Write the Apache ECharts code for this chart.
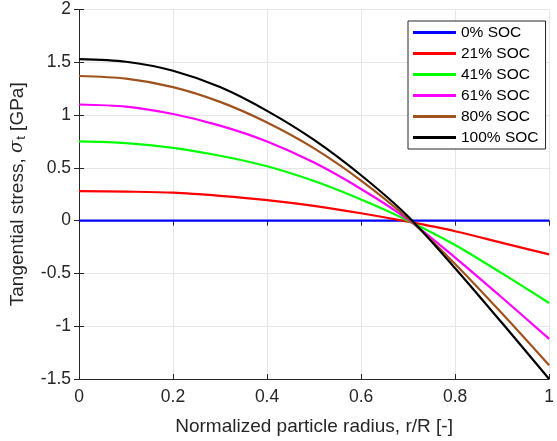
<!DOCTYPE html>
<html><head><meta charset="utf-8">
<script src="https://cdn.jsdelivr.net/npm/echarts@6/dist/echarts.min.js"></script>
<style>html,body{margin:0;padding:0;background:#fff}#c{width:557px;height:441px}</style>
</head><body><div id="c"></div>
<script>
var radius = [0, 0.1, 0.2, 0.3, 0.4, 0.5, 0.6, 0.7, 0.8, 0.9, 1.0];
var seriesNames = ['0% SOC', '21% SOC', '41% SOC', '61% SOC', '80% SOC', '100% SOC'];
var soc0   = [0, 0, 0, 0, 0, 0, 0, 0, 0, 0, 0];
var soc21  = [0.28, 0.275, 0.265, 0.235, 0.195, 0.14, 0.07, -0.01, -0.10, -0.21, -0.32];
var soc41  = [0.75, 0.735, 0.69, 0.615, 0.515, 0.375, 0.20, 0.0, -0.23, -0.50, -0.78];
var soc61  = [1.10, 1.08, 1.01, 0.90, 0.75, 0.55, 0.30, 0.01, -0.35, -0.73, -1.12];
var soc80  = [1.37, 1.345, 1.265, 1.125, 0.93, 0.685, 0.38, 0.02, -0.41, -0.88, -1.37];
var soc100 = [1.53, 1.505, 1.42, 1.265, 1.04, 0.765, 0.43, 0.04, -0.45, -0.97, -1.50];
var xTicks = [0, 0.2, 0.4, 0.6, 0.8, 1];
var yTicks = [-1.5, -1, -0.5, 0, 0.5, 1, 1.5, 2];
var colors = ['#0000ff', '#ff0000', '#00ff00', '#ff00ff', '#a0521c', '#000000'];
var allData = [soc0, soc21, soc41, soc61, soc80, soc100];

var font = 'Liberation Sans, Arial, sans-serif';
var axisCol = '#262626';
function pairs(ys){ return radius.map(function(x,i){ return [x, ys[i]]; }); }

var chart = echarts.init(document.getElementById('c'), null, {renderer:'canvas'});
var series = allData.map(function(d, i){
  return {
    name: seriesNames[i], type: 'line', data: pairs(d), smooth: 0.3,
    showSymbol: false, symbol: 'none',
    lineStyle: {color: colors[i], width: 2.2}, itemStyle: {color: colors[i]},
    z: 2 + i, animation: false
  };
});
chart.setOption({
  animation: false,
  grid: {left: 78.5, right: 1.5, top: 9.5, bottom: 59.5, containLabel: false},
  legend: {
    data: seriesNames, orient: 'vertical', left: 408, top: 21,
    padding: [3, 7, 3, 5], itemGap: 4, itemWidth: 43, itemHeight: 3,
    icon: 'rect', backgroundColor: '#fff', borderColor: '#262626', borderWidth: 1,
    textStyle: {fontFamily: font, fontSize: 15.5, color: '#000', lineHeight: 17, padding: [0,0,0,0]}
  },
  xAxis: [{
    type: 'value', min: 0, max: 1, interval: 0.2, position: 'bottom',
    name: 'Normalized particle radius, r/R [-]', nameLocation: 'middle', nameGap: 38,
    nameTextStyle: {fontFamily: font, fontSize: 19, color: axisCol},
    axisLine: {onZero: false, lineStyle: {color: axisCol, width: 1}},
    axisTick: {inside: true, length: 5, lineStyle: {color: axisCol}},
    axisLabel: {fontFamily: font, fontSize: 17.5, color: axisCol, margin: 9,
      formatter: function(v){ return String(+v.toFixed(1)); }},
    splitLine: {show: true, lineStyle: {color: '#e6e6e6', width: 1}}
  }, {
    type: 'value', min: 0, max: 1, interval: 0.2, position: 'top',
    axisLine: {show: true, lineStyle: {color: axisCol, width: 1}},
    axisTick: {inside: true, length: 5, lineStyle: {color: axisCol}},
    axisLabel: {show: false}, splitLine: {show: false}
  }],
  yAxis: [{
    type: 'value', min: -1.5, max: 2, interval: 0.5, position: 'left',
    name: '{n|Tangential stress, }{s|σ}{t|t}{n| [GPa]}', nameLocation: 'middle', nameGap: 51,
    nameRotate: 90,
    nameTextStyle: {fontFamily: font, fontSize: 19, color: axisCol,
      rich: {
        n: {fontFamily: font, fontSize: 19, color: axisCol},
        s: {fontFamily: 'DejaVu Serif, serif', fontStyle: 'italic', fontSize: 18, color: axisCol},
        t: {fontFamily: font, fontSize: 13, color: axisCol, verticalAlign: 'bottom', padding: [8,0,0,1]}
      }},
    axisLine: {onZero: false, lineStyle: {color: axisCol, width: 1}},
    axisTick: {inside: true, length: 5, lineStyle: {color: axisCol}},
    axisLabel: {fontFamily: font, fontSize: 17.5, color: axisCol, margin: 8,
      formatter: function(v){ return String(+v.toFixed(1)); }},
    splitLine: {show: true, lineStyle: {color: '#e6e6e6', width: 1}}
  }, {
    type: 'value', min: -1.5, max: 2, interval: 0.5, position: 'right',
    axisLine: {show: true, lineStyle: {color: axisCol, width: 1}},
    axisTick: {inside: true, length: 5, lineStyle: {color: axisCol}},
    axisLabel: {show: false}, splitLine: {show: false}
  }],
  series: series
});
</script></body></html>
